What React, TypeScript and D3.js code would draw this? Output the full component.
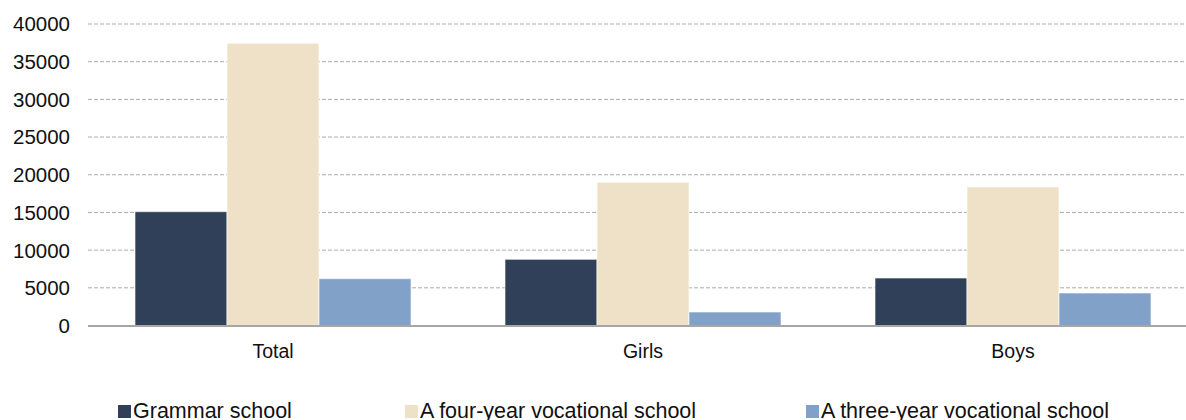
import React from "react";
import * as d3 from "d3";

const categories = ["Total", "Girls", "Boys"];
const seriesNames = ["Grammar school", "A four-year vocational school", "A three-year vocational school"];
const grammar = [15100, 8780, 6300];
const fourYear = [37450, 19000, 18380];
const threeYear = [6210, 1790, 4310];
const yTicks = [0, 5000, 10000, 15000, 20000, 25000, 30000, 35000, 40000];
const colors = ["#304059", "#efe1c7", "#81a1c8"];

export default function App() {
  const W = 1186, H = 420;
  const left = 88, right = 1198, top = 24, bottom = 325.5;
  const font = "'Liberation Sans', Arial, sans-serif";
  const series = [grammar, fourYear, threeYear];
  const x0 = d3.scaleBand<string>().domain(categories).range([left, right]).paddingInner(0).paddingOuter(0);
  const bw = x0.bandwidth();
  const pad = 47 / 370;
  const x1 = d3.scaleBand<number>().domain([0, 1, 2]).range([bw * pad, bw * (1 - pad)]).padding(0);
  const y = d3.scaleLinear().domain([0, 40000]).range([bottom, top]);
  const legendX = [118, 405, 806];

  return (
    <svg width={W} height={H} style={{ position: "absolute", left: 0, top: 0, display: "block" }}>
      <rect width={W} height={H} fill="#fff" />
      {yTicks.map((t) => (
        <g key={t}>
          {t > 0 && (
            <line x1={left} x2={right} y1={y(t)} y2={y(t)} stroke="#ababab" strokeWidth={1} strokeDasharray="4,2" />
          )}
          <text x={70} y={y(t)} dy="0.36em" textAnchor="end" fontFamily={font} fontSize={20.5} fill="#111">
            {t}
          </text>
        </g>
      ))}
      {categories.map((c, ci) => (
        <g key={c} transform={`translate(${x0(c)},0)`}>
          {series.map((s, si) => (
            <rect
              key={si}
              x={x1(si)}
              y={y(s[ci])}
              width={x1.bandwidth()}
              height={y(0) - y(s[ci])}
              fill={colors[si]}
              stroke="#ffffff"
              strokeOpacity={0.6}
              strokeWidth={1}
            />
          ))}
          <text x={bw / 2} y={358} textAnchor="middle" fontFamily={font} fontSize={19.5} fill="#111">
            {c}
          </text>
        </g>
      ))}
      <line x1={left} x2={right} y1={bottom + 0.5} y2={bottom + 0.5} stroke="#a6a6a6" strokeWidth={2} />
      {seriesNames.map((n, i) => (
        <g key={n}>
          <rect x={legendX[i]} y={405} width={13} height={13} fill={colors[i]} />
          <text x={legendX[i] + 15} y={418} fontFamily={font} fontSize={21.5} fill="#111">
            {n}
          </text>
        </g>
      ))}
    </svg>
  );
}
